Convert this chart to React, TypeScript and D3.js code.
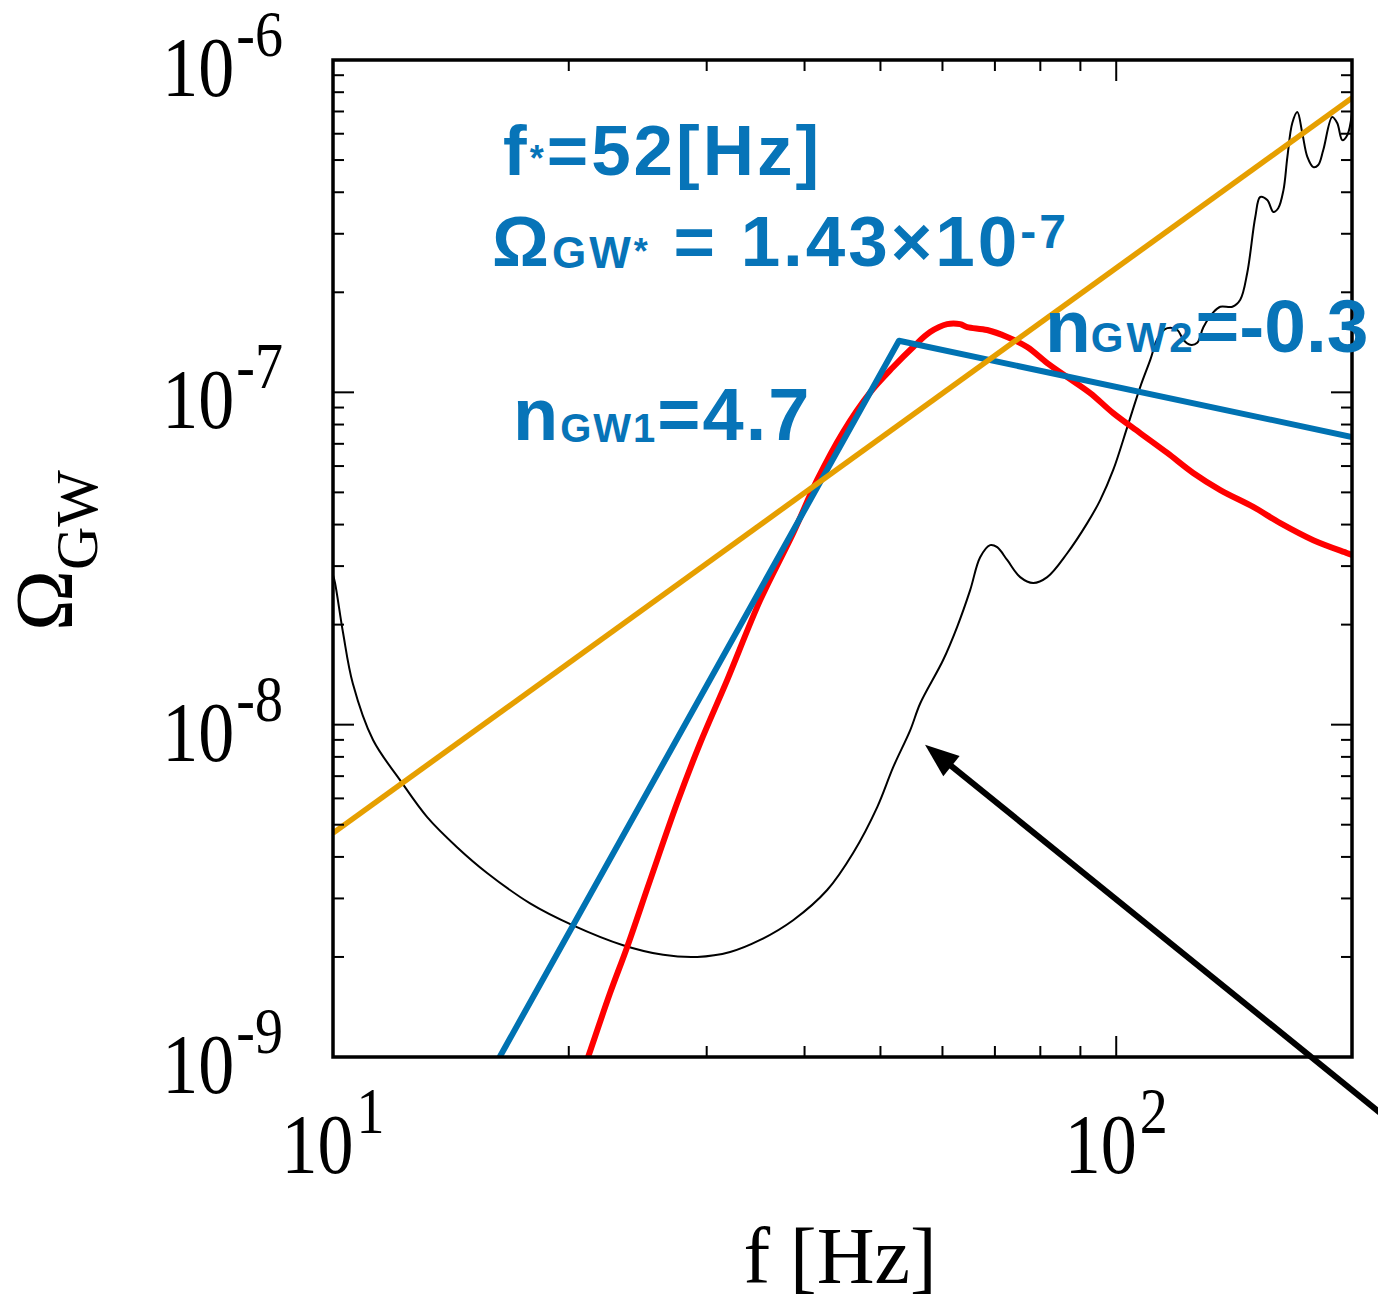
import React from 'react';
import * as d3 from 'd3';

// detector sensitivity curve: [f (Hz), Omega_GW]
const sensitivity: [number, number][] = [
  [10.0, 2.82e-8], [10.06, 2.67e-8], [10.3, 1.89e-8], [10.6, 1.33e-8], [11.25, 8.99e-9],
  [12.18, 6.81e-9], [13.19, 5.27e-9], [14.4, 4.28e-9], [15.73, 3.58e-9], [17.85, 2.9e-9],
  [20.25, 2.49e-9], [23.46, 2.17e-9], [26.4, 2.03e-9], [29.17, 2.0e-9], [32.14, 2.07e-9],
  [35.11, 2.25e-9], [38.68, 2.58e-9], [42.75, 3.18e-9], [46.14, 4.11e-9], [49.53, 5.65e-9],
  [51.91, 7.45e-9], [54.58, 9.63e-9], [56.21, 1.16e-8], [60.12, 1.565e-8], [62.65, 1.97e-8],
  [65.09, 2.54e-8], [67.03, 3.19e-8], [69.03, 3.47e-8], [70.47, 3.42e-8], [72.57, 3.13e-8],
  [75.4, 2.78e-8], [78.34, 2.67e-8], [81.64, 2.78e-8], [86.58, 3.28e-8], [91.83, 4.04e-8],
  [95.4, 4.74e-8], [99.12, 5.84e-8], [103.3, 7.86e-8], [107.3, 1.037e-7], [110.5, 1.25e-7],
  [113.2, 1.47e-7], [116.2, 1.56e-7], [119.7, 1.54e-7], [121.8, 1.44e-7], [124.3, 1.39e-7],
  [126.9, 1.41e-7], [129.2, 1.57e-7], [133.0, 1.74e-7], [135.8, 1.81e-7], [140.7, 1.81e-7],
  [144.0, 1.9e-7], [147.0, 2.29e-7], [150.5, 3.37e-7], [152.7, 3.87e-7], [155.9, 3.79e-7],
  [158.7, 3.49e-7], [161.0, 3.58e-7], [163.5, 4.06e-7], [165.4, 5.11e-7], [167.8, 6.46e-7],
  [170.3, 6.97e-7], [172.8, 6.03e-7], [175.4, 5.11e-7], [178.5, 4.76e-7], [181.1, 4.83e-7],
  [183.8, 5.36e-7], [188.7, 6.74e-7], [191.5, 6.46e-7], [194.4, 5.74e-7], [197.3, 5.95e-7],
  [200.0, 6.93e-7],
];

// simulated spectrum (red)
const spectrum: [number, number][] = [
  [20.1, 7e-10], [21.17, 1.0e-9], [22.58, 1.557e-9], [23.74, 2.14e-9], [25.4, 3.4e-9],
  [27.5, 5.81e-9], [29.43, 8.8e-9], [31.86, 1.362e-8], [35.11, 2.37e-8], [38.68, 3.77e-8],
  [41.51, 5.45e-8], [44.8, 7.6e-8], [48.52, 1.0e-7], [51.91, 1.192e-7], [55.06, 1.369e-7],
  [57.86, 1.518e-7], [60.83, 1.604e-7], [63.2, 1.604e-7], [64.51, 1.572e-7], [68.43, 1.54e-7],
  [72.57, 1.467e-7], [76.97, 1.369e-7], [81.64, 1.225e-7], [86.58, 1.112e-7], [92.64, 9.95e-8],
  [99.12, 8.66e-8], [107.3, 7.54e-8], [116.2, 6.57e-8], [125.4, 5.72e-8], [135.8, 5.08e-8],
  [149.6, 4.52e-8], [162.0, 4.04e-8], [178.5, 3.59e-8], [197.3, 3.28e-8], [200.0, 3.24e-8],
];

// broken power-law fit (blue)
const brokenPowerLaw: [number, number][] = [[14.9, 6.8e-10], [52.8, 1.43e-7], [200, 7.34e-8]];

// power-law integrated sensitivity (orange)
const powerLawSens: [number, number][] = [[10, 4.72e-9], [200, 7.69e-7]];

// arrow annotation (tail outside the frame, tip at the curve)
const arrowTail: [number, number] = [218, 6.75e-10];
const arrowTip: [number, number] = [57.0, 8.7e-9];

const xTickExps = ['1', '2'];
const yTickExps = ['-6', '-7', '-8', '-9'];

const BLUE = '#0072B2';
const TXT = '#0774B8';

export default function App() {
  const x = d3.scaleLog().domain([10, 200]).range([333, 1352]);
  const y = d3.scaleLog().domain([1e-9, 1e-6]).range([1057, 60]);
  const [x0, x1] = x.range();
  const [y0, y1] = y.range();

  const line = d3
    .line<[number, number]>()
    .x((d) => x(d[0]))
    .y((d) => y(d[1]))
    .curve(d3.curveCatmullRom);
  const straight = d3
    .line<[number, number]>()
    .x((d) => x(d[0]))
    .y((d) => y(d[1]));

  const isMajor = (v: number) => Math.abs(Math.log10(v) - Math.round(Math.log10(v))) < 1e-6;
  const xt = x.ticks();
  const yt = y.ticks();

  // arrow
  const tx = x(arrowTip[0]), ty = y(arrowTip[1]);
  const sx = x(arrowTail[0]), sy = y(arrowTail[1]);
  const ang = Math.atan2(ty - sy, tx - sx);
  const hl = 34, hw = 13;
  const bx = tx - hl * Math.cos(ang), by = ty - hl * Math.sin(ang);
  const head = [
    [tx, ty],
    [bx + hw * Math.sin(ang), by - hw * Math.cos(ang)],
    [bx - hw * Math.sin(ang), by + hw * Math.cos(ang)],
  ]
    .map((p) => p.join(','))
    .join(' ');

  const serif = '"Liberation Serif", "Times New Roman", serif';
  const sans = '"Liberation Sans", Arial, sans-serif';

  return (
    <svg width={1378} height={1300} style={{ position: 'absolute', left: 0, top: 0, background: '#fff' }}>
      <defs>
        <clipPath id="plot">
          <rect x={x0} y={y1} width={x1 - x0} height={y0 - y1} />
        </clipPath>
      </defs>

      <g clipPath="url(#plot)" fill="none" strokeLinejoin="round">
        <path d={line(sensitivity) || ''} stroke="#000" strokeWidth={2} />
        <path d={line(spectrum) || ''} stroke="#FF0000" strokeWidth={6} />
        <path d={straight(brokenPowerLaw) || ''} stroke={BLUE} strokeWidth={6} />
        <path d={straight(powerLawSens) || ''} stroke="#E69F00" strokeWidth={5.5} />
      </g>

      {/* ticks */}
      <g stroke="#000" strokeWidth={2}>
        {xt.map((v, i) => {
          const len = isMajor(v) ? 21 : 11;
          const px = x(v);
          return (
            <g key={'x' + i}>
              <line x1={px} x2={px} y1={y0} y2={y0 - len} />
              <line x1={px} x2={px} y1={y1} y2={y1 + len} />
            </g>
          );
        })}
        {yt.map((v, i) => {
          const len = isMajor(v) ? 21 : 11;
          const py = y(v);
          return (
            <g key={'y' + i}>
              <line x1={x0} x2={x0 + len} y1={py} y2={py} />
              <line x1={x1} x2={x1 - len} y1={py} y2={py} />
            </g>
          );
        })}
      </g>
      <rect x={x0} y={y1} width={x1 - x0} height={y0 - y1} fill="none" stroke="#000" strokeWidth={3.5} />

      {/* tick labels */}
      {xTickExps.map((e) => (
        <g key={'xl' + e} transform={`translate(${x(Math.pow(10, +e))},1173) scale(1,1.175)`}>
          <text textAnchor="middle" fontFamily={serif} fontSize={72} fill="#000">
            10
            <tspan fontSize={56} dy={-34} dx={3}>
              {e}
            </tspan>
          </text>
        </g>
      ))}
      {yTickExps.map((e) => (
        <g key={'yl' + e} transform={`translate(283,${y(Math.pow(10, +e)) + 36}) scale(1,1.175)`}>
          <text textAnchor="end" fontFamily={serif} fontSize={72} fill="#000">
            10
            <tspan fontSize={56} dy={-34} dx={2}>
              {e}
            </tspan>
          </text>
        </g>
      ))}

      {/* axis titles */}
      <text x={840} y={1283} textAnchor="middle" fontFamily={serif} fontSize={80} fill="#000">
        f [Hz]
      </text>
      <g transform="translate(72,631) rotate(-90)">
        <text fontFamily={serif} fontSize={82} fill="#000">
          Ω<tspan fontSize={60} dy={25}>GW</tspan>
        </text>
      </g>

      {/* arrow */}
      <line x1={sx} y1={sy} x2={bx + 2 * Math.cos(ang)} y2={by + 2 * Math.sin(ang)} stroke="#000" strokeWidth={6} />
      <polygon points={head} fill="#000" />

      {/* annotations */}
      <g fontFamily={sans} fontWeight="bold" fill={TXT}>
        <text x={503} y={175} fontSize={71} letterSpacing={3}>
          f<tspan fontSize={36} dy={-4}>*</tspan>
          <tspan dy={4}>=52[Hz]</tspan>
        </text>
        <text x={492} y={266} fontSize={71} letterSpacing={3}>
          Ω<tspan fontSize={44} dy={2}>GW</tspan>
          <tspan fontSize={36} dy={-4}>*</tspan>
          <tspan dy={2}> = 1.43×10</tspan>
          <tspan fontSize={48} dy={-18}>-7</tspan>
        </text>
        <text x={513} y={440} fontSize={74} letterSpacing={2}>
          n<tspan fontSize={40} dy={2}>GW1</tspan>
          <tspan dy={-2}>=4.7</tspan>
        </text>
        <text x={1045} y={352} fontSize={75}>
          n<tspan fontSize={42} letterSpacing={3}>GW2</tspan>
          <tspan>=-0.3</tspan>
        </text>
      </g>
    </svg>
  );
}
